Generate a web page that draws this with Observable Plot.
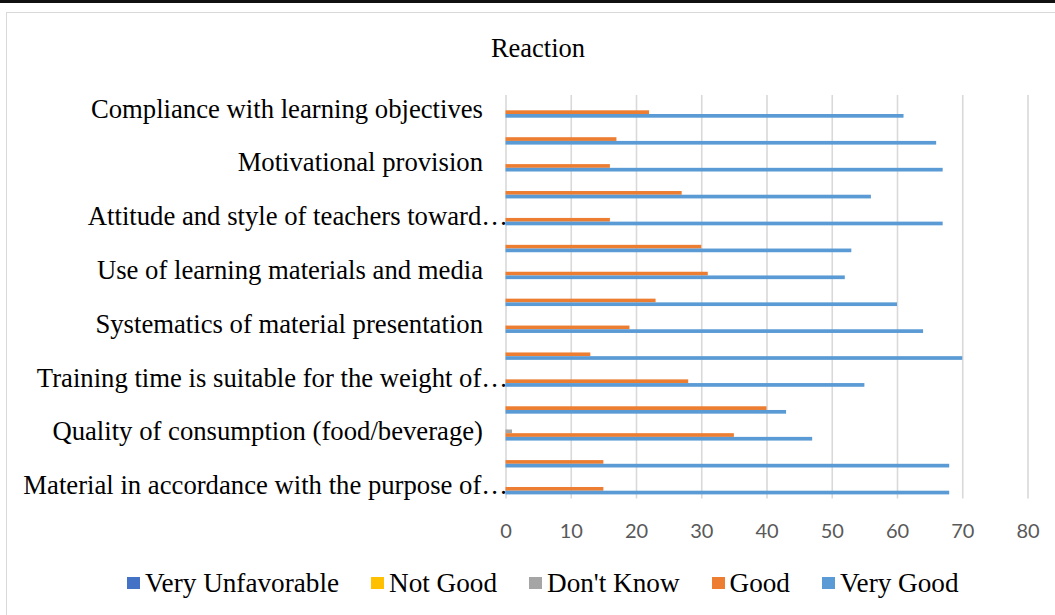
<!DOCTYPE html>
<html>
<head>
<meta charset="utf-8">
<script src="https://cdn.jsdelivr.net/npm/d3@7"></script>
<script src="https://cdn.jsdelivr.net/npm/@observablehq/plot@0.6"></script>
<style>
  html, body { margin: 0; padding: 0; background: #fff; width: 1055px; height: 615px; overflow: hidden; }
  #topline { position: absolute; left: 0; top: 0; width: 1055px; height: 3px; background: #111; }
  #frame { position: absolute; left: 6px; top: 12px; width: 1200px; height: 700px; border: 1.5px solid #d9d9d9; box-sizing: border-box; }
  #title { position: absolute; left: 0; top: 33px; width: 1076px; text-align: center; font-family: "Liberation Serif", "Times New Roman", serif; font-size: 26.5px; line-height: 30px; color: #000; }
  #chart { position: absolute; left: 0; top: 0; }
  #legend { position: absolute; left: 127px; top: 568px; display: flex; gap: 32px; font-family: "Liberation Serif", "Times New Roman", serif; font-size: 27.2px; line-height: 30px; color: #000; white-space: nowrap; }
  #legend .item { display: flex; align-items: center; }
  #legend .sw { width: 13px; height: 12px; margin-right: 5px; display: inline-block; }
</style>
</head>
<body>
<div id="topline"></div>
<div id="frame"></div>
<div id="title">Reaction</div>
<div id="chart"></div>
<div id="legend"></div>
<script>
// ---- data ----
const items = [1, 2, 3, 4, 5, 6, 7, 8, 9, 10, 11, 12, 13, 14, 15];
const itemLabels = [
  "Compliance with learning objectives", "",
  "Motivational provision", "",
  "Attitude and style of teachers toward…", "",
  "Use of learning materials and media", "",
  "Systematics of material presentation", "",
  "Training time is suitable for the weight of…", "",
  "Quality of consumption (food/beverage)", "",
  "Material in accordance with the purpose of…"
];
const seriesNames = ["Very Unfavorable", "Not Good", "Don't Know", "Good", "Very Good"];
const seriesColors = ["#4472C4", "#FFC000", "#A5A5A5", "#ED7D31", "#5B9BD5"];
const veryUnfavorable = [0, 0, 0, 0, 0, 0, 0, 0, 0, 0, 0, 0, 0, 0, 0];
const notGood         = [0, 0, 0, 0, 0, 0, 0, 0, 0, 0, 0, 0, 0, 0, 0];
const dontKnow        = [0, 0, 0, 0, 0, 0, 0, 0, 0, 0, 0, 0, 1, 0, 0];
const good            = [22, 17, 16, 27, 16, 30, 31, 23, 19, 13, 28, 40, 35, 15, 15];
const veryGood        = [61, 66, 67, 56, 67, 53, 52, 60, 64, 70, 55, 43, 47, 68, 68];
const xTicks = [0, 10, 20, 30, 40, 50, 60, 70, 80];

// ---- build table ----
const seriesValues = [veryUnfavorable, notGood, dontKnow, good, veryGood];
const rows = [];
seriesNames.forEach((s, k) => items.forEach((it, i) => rows.push({item: it, series: s, value: seriesValues[k][i]})));
const labelRows = items.map((it, i) => ({item: it, label: itemLabels[i]})).filter(d => d.label !== "");

// ---- layout ----
const W = 1055, H = 560, mTop = 95, mBottom = 61.4, mLeft = 505.5, mRight = 27.5;
const B = (H - mTop - mBottom) / items.length; // band height
const t = 3.7; // bar thickness
const groupTop = (B - t * seriesNames.length) / 2;

const barMarks = seriesNames.map((s, k) => {
  const insetTop = groupTop + k * t;
  const insetBottom = B - insetTop - t;
  return Plot.barX(rows.filter(d => d.series === s && d.value > 0), {
    x1: 0, x2: "value", y: "item", fill: seriesColors[k], insetTop, insetBottom
  });
});

const chart = Plot.plot({
  width: W, height: H,
  marginTop: mTop, marginBottom: mBottom, marginLeft: mLeft, marginRight: mRight,
  style: {fontFamily: "Lato, sans-serif", fontSize: "20px", color: "#595959", background: "transparent", overflow: "visible"},
  x: {domain: [0, 80], label: null},
  y: {type: "band", domain: items, padding: 0, round: false, axis: null},
  marks: [
    Plot.ruleX(xTicks, {x: d => d, stroke: "#d9d9d9", strokeWidth: 1.6}),
    ...barMarks,
    Plot.axisX({ticks: xTicks, tickSize: 0, tickPadding: 25, tickFormat: d => String(d), fontSize: 20, fontFamily: "Lato, sans-serif", label: null}),
    Plot.text(labelRows.filter(d => !d.label.endsWith("…")), {
      x: 0, y: "item", text: "label", textAnchor: "end", dx: -23,
      fontSize: 26.7, fontFamily: "Liberation Serif, Times New Roman, serif", fill: "#000"
    }),
    Plot.text(labelRows.filter(d => d.label.endsWith("…")), {
      x: 0, y: "item", text: "label", textAnchor: "end", dx: 2,
      fontSize: 26.7, fontFamily: "Liberation Serif, Times New Roman, serif", fill: "#000"
    })
  ]
});
document.getElementById("chart").appendChild(chart);

// ---- legend ----
const legend = document.getElementById("legend");
seriesNames.forEach((s, k) => {
  const it = document.createElement("div");
  it.className = "item";
  const sw = document.createElement("span");
  sw.className = "sw";
  sw.style.background = seriesColors[k];
  const tx = document.createElement("span");
  tx.textContent = s;
  it.appendChild(sw); it.appendChild(tx);
  legend.appendChild(it);
});
</script>
</body>
</html>
